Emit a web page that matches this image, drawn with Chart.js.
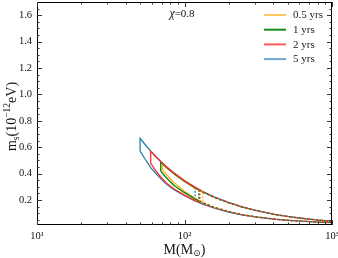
<!DOCTYPE html>
<html><head><meta charset="utf-8">
<script src="https://cdn.jsdelivr.net/npm/chart.js@4.4.0/dist/chart.umd.min.js"></script>
<style>html,body{margin:0;padding:0;background:#fff;overflow:hidden}#wrap{width:338px;height:258px;position:relative}</style>
</head><body><div id="wrap"><canvas id="c"></canvas></div>
<script>
// ---- data ----
const seriesLabels = ['0.5 yrs', '1 yrs', '2 yrs', '5 yrs'];

// 0.5 yrs
const yr05_M  = [71, 75, 85, 100, 118, 133, 160, 200, 250, 300, 400, 500, 600, 700, 850, 1000];
const yr05_up = [0.472, 0.446, 0.396, 0.338, 0.289, 0.257, 0.216, 0.176, 0.142, 0.120, 0.091, 0.0735, 0.062, 0.0537, 0.0448, 0.0383];
const yr05_lo = [0.425, 0.395, 0.330, 0.265, 0.213, 0.182, 0.146, 0.113, 0.088, 0.074, 0.056, 0.046, 0.040, 0.036, 0.032, 0.029];
// 1 yrs
const yr1_M  = [69, 75, 85, 100, 118, 125, 133, 160, 200, 250, 300, 400, 500, 600, 700, 850, 1000];
const yr1_up = [0.487, 0.450, 0.399, 0.341, 0.291, 0.277, 0.259, 0.218, 0.177, 0.143, 0.121, 0.0915, 0.074, 0.0625, 0.054, 0.045, 0.0385];
const yr1_lo = [0.418, 0.370, 0.310, 0.255, 0.207, 0.193, 0.178, 0.143, 0.111, 0.087, 0.073, 0.056, 0.046, 0.040, 0.036, 0.032, 0.029];
// 2 yrs
const yr2_M  = [59, 64, 69, 75, 85, 100, 118, 127, 133, 160, 200, 250, 300, 400, 500, 600, 700, 850, 1000];
const yr2_up = [0.570, 0.527, 0.491, 0.454, 0.403, 0.345, 0.295, 0.275, 0.263, 0.221, 0.179, 0.145, 0.122, 0.0925, 0.0748, 0.063, 0.0543, 0.0452, 0.0388];
const yr2_lo = [0.477, 0.420, 0.375, 0.330, 0.283, 0.236, 0.195, 0.180, 0.170, 0.139, 0.109, 0.086, 0.072, 0.055, 0.046, 0.040, 0.036, 0.032, 0.029];
// 5 yrs
const yr5_M  = [50, 54, 59, 64, 69, 75, 85, 100, 118, 133, 160, 200, 250, 300, 400, 500, 600, 700, 850, 1000];
const yr5_up = [0.667, 0.620, 0.570, 0.527, 0.491, 0.454, 0.403, 0.345, 0.295, 0.263, 0.221, 0.179, 0.145, 0.122, 0.0925, 0.0748, 0.063, 0.0543, 0.0452, 0.0388];
const yr5_lo = [0.570, 0.510, 0.445, 0.400, 0.362, 0.322, 0.278, 0.232, 0.192, 0.168, 0.138, 0.108, 0.085, 0.071, 0.054, 0.045, 0.039, 0.035, 0.031, 0.028];

// mass where each solid region ends (dashed beyond)
const regionEndM = [133, 125, 127, 118];

const xTickValues = [10, 100, 1000];
const xTickLabels = ['10\u00B9', '10\u00B2', '10\u00B3'];
const yTickValues = [0.2, 0.4, 0.6, 0.8, 1.0, 1.2, 1.4, 1.6];
const yTickLabels = ['0.2', '0.4', '0.6', '0.8', '1.0', '1.2', '1.4', '1.6'];
const spinLabel = '0.8';

// ---- styles ----
const colors = ['rgb(255,178,30)', 'rgb(0,128,0)', 'rgb(255,45,45)', 'rgb(40,125,175)'];
const legendColors = ['rgba(255,185,60,0.8)', 'rgba(0,128,0,0.9)', 'rgba(255,60,60,0.85)', 'rgba(60,140,190,0.75)'];
const serif = "'Liberation Serif','DejaVu Serif',serif";

const allM = [yr05_M, yr1_M, yr2_M, yr5_M];
const allUp = [yr05_up, yr1_up, yr2_up, yr5_up];
const allLo = [yr05_lo, yr1_lo, yr2_lo, yr5_lo];

function outline(Ms, up, lo) {
  const pts = [{x: Ms[0], y: lo[0]}];
  for (let i = 0; i < Ms.length; i++) pts.push({x: Ms[i], y: up[i]});
  for (let i = Ms.length - 1; i >= 0; i--) pts.push({x: Ms[i], y: lo[i]});
  return pts;
}
function edge(Ms, up, lo, m) {
  const i = Ms.indexOf(m);
  return [{x: m, y: up[i]}, {x: m, y: lo[i]}];
}

const drawOrder = [3, 2, 1, 4];
const datasets = [];
for (let s = 0; s < 4; s++) {
  const end = regionEndM[s];
  const dashedBeyond = s !== 3;
  datasets.push({
    label: seriesLabels[s],
    data: outline(allM[s], allUp[s], allLo[s]),
    borderColor: colors[s],
    backgroundColor: colors[s],
    borderWidth: 1.3,
    pointRadius: 0,
    fill: false,
    tension: 0,
    order: drawOrder[s],
    segment: {
      borderDash: ctx => (dashedBeyond && ctx.p0.parsed.x >= end && ctx.p1.parsed.x >= end) ? [2.5, 2] : undefined
    }
  });
}
for (let s = 0; s < 4; s++) {
  datasets.push({
    label: '_edge' + s,
    data: edge(allM[s], allUp[s], allLo[s], regionEndM[s]),
    borderColor: colors[s],
    borderWidth: 1.2,
    borderDash: [2, 1.5],
    pointRadius: 0,
    fill: false,
    order: 5
  });
}

function richText(ctx, parts, cx, cy) {
  let w = 0;
  parts.forEach(p => { ctx.font = (p.it ? 'italic ' : '') + p.s + 'px ' + serif; p.w = ctx.measureText(p.t).width; w += p.w; });
  let x = cx - w / 2;
  ctx.textBaseline = 'alphabetic';
  ctx.textAlign = 'left';
  parts.forEach(p => { ctx.font = (p.it ? 'italic ' : '') + p.s + 'px ' + serif; ctx.fillText(p.t, x, cy + (p.dy || 0)); x += p.w; });
}

const decor = {
  id: 'decor',
  afterDraw(chart) {
    const {ctx, chartArea: a, scales: {x, y}} = chart;
    ctx.save();
    // frame
    ctx.strokeStyle = '#000';
    ctx.lineWidth = 1;
    ctx.strokeRect(a.left + 0.5, a.top + 0.5, a.right - a.left - 1, a.bottom - a.top - 1);
    // ticks (inward, all four sides)
    ctx.strokeStyle = '#333';
    const tick = (px, len, horiz) => {
      ctx.beginPath();
      if (horiz) {
        const xx = Math.round(px) + 0.5;
        ctx.moveTo(xx, a.bottom); ctx.lineTo(xx, a.bottom - len);
        ctx.moveTo(xx, a.top); ctx.lineTo(xx, a.top + len);
      } else {
        const yy = Math.round(py = px) + 0.5;
        ctx.moveTo(a.left, yy); ctx.lineTo(a.left + len, yy);
        ctx.moveTo(a.right, yy); ctx.lineTo(a.right - len, yy);
      }
      ctx.stroke();
    };
    let py;
    for (let d = 10; d < 1000; d *= 10) {
      for (let k = 1; k <= 9; k++) {
        const v = d * k;
        tick(x.getPixelForValue(v), k === 1 ? 5 : 2.5, true);
      }
    }
    tick(x.getPixelForValue(1000), 5, true);
    for (let k = 1; k * 0.05 < y.max; k++) {
      const v = k * 0.05;
      tick(y.getPixelForValue(v), (k % 4 === 0) ? 5 : 2.5, false);
    }
    // axis titles
    ctx.fillStyle = '#111';
    richText(ctx, [{t: 'M(M', s: 14}, {t: '\u2299', s: 9, dy: 2}, {t: ')', s: 14}], (a.left + a.right) / 2, 254);
    ctx.save();
    ctx.translate(16, (a.top + a.bottom) / 2 + 3);
    ctx.rotate(-Math.PI / 2);
    richText(ctx, [{t: 'm', s: 14}, {t: 's', s: 9.5, dy: 3}, {t: '(10', s: 14}, {t: '\u221212', s: 9.5, dy: -6}, {t: 'eV)', s: 14}], 0, 0);
    ctx.restore();
    // chi annotation
    richText(ctx, [{t: '\u03C7', s: 12, it: true}, {t: '=' + spinLabel, s: 11}], 182, 17);
    // legend
    const lx0 = a.right - 68, lx1 = a.right - 46, tx = a.right - 39;
    for (let s = 0; s < 4; s++) {
      const ly = a.top + 13 + s * 14.7;
      ctx.strokeStyle = legendColors[s];
      ctx.lineWidth = 2;
      ctx.beginPath(); ctx.moveTo(lx0, ly); ctx.lineTo(lx1, ly); ctx.stroke();
      ctx.fillStyle = '#222';
      ctx.font = '11px ' + serif;
      ctx.textAlign = 'left';
      ctx.textBaseline = 'middle';
      ctx.fillText(chart.data.datasets[s].label, tx, ly + 0.5);
    }
    ctx.restore();
  }
};

new Chart(document.getElementById('c'), {
  type: 'line',
  data: {datasets},
  options: {
    responsive: true,
    maintainAspectRatio: false,
    animation: false,
    parsing: true,
    layout: {padding: {top: 2, right: 6, left: 0, bottom: 0}},
    plugins: {legend: {display: false}, tooltip: {enabled: false}},
    scales: {
      x: {
        type: 'logarithmic',
        min: 10, max: 1000,
        border: {display: false},
        grid: {display: false, drawTicks: false},
        afterBuildTicks: s => { s.ticks = xTickValues.map(v => ({value: v, major: true})); },
        afterFit: s => { s.height = 33; s.paddingLeft = 0; s.paddingRight = 0; },
        ticks: {
          autoSkip: false, maxRotation: 0, padding: 5,
          color: '#111',
          font: {family: serif, size: 10.5},
          callback: v => xTickLabels[xTickValues.indexOf(v)]
        }
      },
      y: {
        type: 'linear',
        min: 0.01, max: 1.7,
        border: {display: false},
        grid: {display: false, drawTicks: false},
        afterBuildTicks: s => { s.ticks = yTickValues.map(v => ({value: v})); },
        afterFit: s => { s.width = 37; s.paddingTop = 0; s.paddingBottom = 0; },
        ticks: {
          autoSkip: false, padding: 5,
          color: '#111',
          font: {family: serif, size: 10.5},
          callback: v => { const i = yTickValues.findIndex(t => Math.abs(t - v) < 1e-9); return i >= 0 ? yTickLabels[i] : ''; }
        }
      }
    }
  },
  plugins: [decor]
});
</script>
</body></html>
